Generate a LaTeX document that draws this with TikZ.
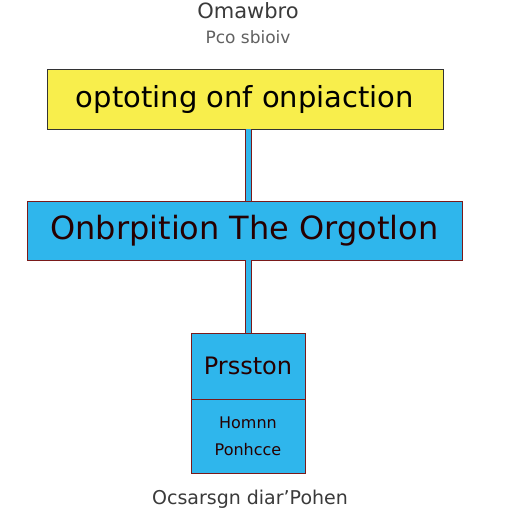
\documentclass[tikz,border=0pt]{standalone}
\usepackage{fontspec}
\setmainfont{DejaVu Sans}
\definecolor{boxyellow}{HTML}{F8EE4C}
\definecolor{boxblue}{HTML}{2FB6EC}
\definecolor{edgered}{HTML}{7A1A1A}
\definecolor{inkgray}{HTML}{3A3A3A}
\begin{document}
\begin{tikzpicture}[x=1pt,y=-1pt,
    topbox/.style ={draw=black!80, thick, fill=boxyellow, minimum width=396pt, minimum height=60pt, inner sep=0pt, font=\fontsize{29}{31}\selectfont},
    midbox/.style ={draw=edgered, thick, fill=boxblue, minimum width=435pt, minimum height=59pt, inner sep=0pt, font=\fontsize{32}{34}\selectfont\color{black!85!red}},
    lowbox/.style ={draw=edgered, thick, fill=boxblue, minimum width=114pt, inner sep=0pt, align=center, text=black!85!red},
    link/.style ={draw=edgered, line width=1pt, double=boxblue, double distance=5pt}]
   \useasboundingbox[fill=white] (0,0) rectangle (512,512);
   \node (T1) [font=\fontsize{21}{23}\selectfont\color{inkgray}] at (248,11) {Omawbro};
   \node (T2) [font=\fontsize{17}{19}\selectfont\color{inkgray!80}] at (248,37) {Pco sbioiv};
   \node[topbox] (A) at (245,99) {optoting onf onpiaction};
   \node[midbox] (B) at (244.5,230.5) {Onbrpition The Orgotlon};
   \node[lowbox] (C) [minimum height=66pt, font=\fontsize{24}{26}\selectfont] at (248,366) {Prsston};
   \node[lowbox] (D) [minimum height=74pt, font=\fontsize{16}{27}\selectfont] at (248,436) {Homnn\\Ponhcce};
   \node (E) [font=\fontsize{19}{21}\selectfont\color{inkgray}] at (250,499) {Ocsarsgn diar'Pohen};
   \draw[link] (A.south -| 248,0) to (B.north -| 248,0);
   \draw[link] (B.south -| 248,0) to (C.north);
 \end{tikzpicture}
\end{document}
